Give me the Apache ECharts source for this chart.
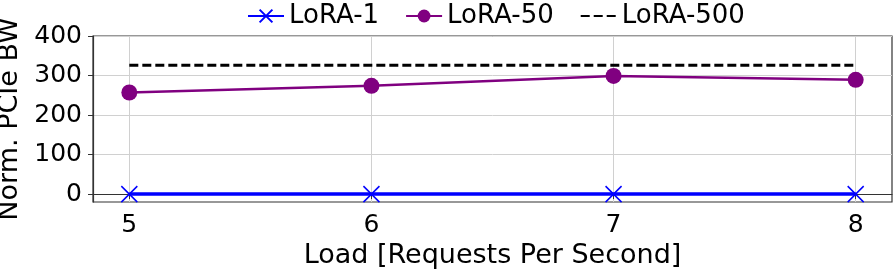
<!DOCTYPE html>
<html><head><meta charset="utf-8">
<script src="https://cdn.jsdelivr.net/npm/echarts@6/dist/echarts.min.js"></script>
<style>html,body{margin:0;padding:0;background:#fff}#c{width:896px;height:269px}</style>
</head><body><div id="c"></div>
<script>
const loads = [5, 6, 7, 8];
const lora1 = [0, 0, 0, 0];
const lora50 = [257, 274, 299, 289];
const lora500 = [326, 326, 326, 326];
const xTicks = [5, 6, 7, 8];
const yTicks = [0, 100, 200, 300, 400];

const F = 'DejaVu Sans';
const chart = echarts.init(document.getElementById('c'), null, {renderer: 'canvas'});
const pair = (arr) => loads.map((x, i) => [x, arr[i]]);
chart.setOption({
  animation: false,
  grid: {left: 93, right: 4, top: 36, bottom: 67, show: true, borderColor: '#333', borderWidth: 1.2, outerBoundsMode: 'none', containLabel: false},
  legend: {
    top: -2, left: 242, itemWidth: 36, itemHeight: 16, itemGap: 26,
    textStyle: {fontFamily: F, fontSize: 26, color: '#000', padding: [0, 0, 0, 0]},
    data: ['LoRA-1', 'LoRA-50', {name: 'LoRA-500', itemStyle: {opacity: 0}}]
  },
  xAxis: {
    type: 'value', min: 4.85, max: 8.15,
    name: 'Load [Requests Per Second]', nameLocation: 'middle', nameGap: 38,
    nameTextStyle: {fontFamily: F, fontSize: 27, color: '#000'},
    axisLine: {show: true, lineStyle: {color: '#333', width: 1.2}},
    axisTick: {show: true, length: 5, customValues: xTicks, lineStyle: {color: '#333'}},
    axisLabel: {customValues: xTicks, fontFamily: F, fontSize: 25, color: '#000', margin: 11},
    splitLine: {show: true, lineStyle: {color: '#d0d0d0', width: 1}}
  },
  yAxis: {
    type: 'value', min: -20, max: 400,
    name: 'Norm. PCIe BW', nameLocation: 'middle', nameGap: 58,
    nameTextStyle: {fontFamily: F, fontSize: 27, color: '#000'},
    axisLine: {show: true, lineStyle: {color: '#333', width: 1.2}},
    axisTick: {show: true, length: 5, customValues: yTicks, lineStyle: {color: '#333'}},
    axisLabel: {customValues: yTicks, fontFamily: F, fontSize: 25, color: '#000', margin: 11},
    splitLine: {show: true, lineStyle: {color: '#d0d0d0', width: 1}}
  },
  series: [
    {
      name: 'LoRA-1', type: 'line', data: pair(lora1), z: 5,
      symbol: 'path://M0,0L10,10M10,0L0,10', symbolSize: 16,
      itemStyle: {color: 'none', borderColor: '#0000ff', borderWidth: 1.5},
      lineStyle: {color: '#0000ff', width: 3.5}, color: '#0000ff'
    },
    {
      name: 'LoRA-50', type: 'line', data: pair(lora50), z: 4,
      symbol: 'circle', symbolSize: 16,
      itemStyle: {color: '#800080'}, lineStyle: {color: '#800080', width: 2.5}, color: '#800080'
    },
    {
      name: 'LoRA-500', type: 'line', data: pair(lora500), z: 3,
      symbol: 'none',
      itemStyle: {color: '#000'}, lineStyle: {color: '#000', width: 3, type: [9, 4]}, color: '#000'
    }
  ]
});
</script></body></html>
